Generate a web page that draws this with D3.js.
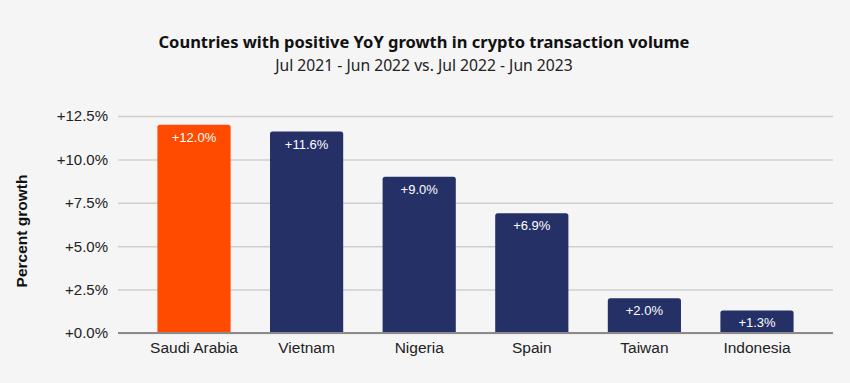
<!DOCTYPE html>
<html>
<head>
<meta charset="utf-8">
<script src="https://cdn.jsdelivr.net/npm/d3@7"></script>
<style>
  body { margin: 0; background: #f5f5f5; }
  svg { display: block; }
  .tick text { font-family: "Liberation Sans", Arial, sans-serif; fill: #222; }
</style>
</head>
<body>
<div id="chart"></div>
<script>
var countries = ["Saudi Arabia", "Vietnam", "Nigeria", "Spain", "Taiwan", "Indonesia"];
var growth = [12.0, 11.6, 9.0, 6.9, 2.0, 1.3];
var yTicks = [0, 2.5, 5, 7.5, 10, 12.5];
var barColors = ["#ff4b00", "#253066", "#253066", "#253066", "#253066", "#253066"];

var svgWidth = 850;
var svgHeight = 383;

var margin = { top: 116, right: 17, bottom: 50, left: 118 };
var width = svgWidth - margin.left - margin.right;
var height = svgHeight - margin.top - margin.bottom;

var data = countries.map(function(c, i) {
  return { country: c, value: growth[i], color: barColors[i] };
});

var svg = d3.select("#chart")
  .append("svg")
  .attr("width", svgWidth)
  .attr("height", svgHeight);

svg.append("rect")
  .attr("width", svgWidth)
  .attr("height", svgHeight)
  .attr("fill", "#f5f5f5");

// Titles
svg.append("text")
  .attr("x", 424)
  .attr("y", 48)
  .attr("text-anchor", "middle")
  .style("font-family", "'Noto Sans', Lato, sans-serif")
  .style("font-weight", "bold")
  .style("font-size", "16.5px")
  .attr("fill", "#111")
  .text("Countries with positive YoY growth in crypto transaction volume");

svg.append("text")
  .attr("x", 424)
  .attr("y", 71)
  .attr("text-anchor", "middle")
  .style("font-family", "'Noto Sans', Lato, sans-serif")
  .style("font-size", "15.7px")
  .attr("fill", "#222")
  .text("Jul 2021 - Jun 2022 vs. Jul 2022 - Jun 2023");

var chartGroup = svg.append("g")
  .attr("transform", `translate(${margin.left}, ${margin.top})`);

var xScale = d3.scaleBand()
  .domain(countries)
  .range([0, width])
  .paddingInner(0.35)
  .paddingOuter(0.35);

var yScale = d3.scaleLinear()
  .domain([0, 12.5])
  .range([height, 0]);

// gridlines
var leftAxis = d3.axisLeft(yScale)
  .tickValues(yTicks)
  .tickSize(-width)
  .tickPadding(10)
  .tickFormat(function(d) { return "+" + d3.format(".1f")(d) + "%"; });

var yAxis = chartGroup.append("g").call(leftAxis);
yAxis.select(".domain").remove();
yAxis.selectAll(".tick line")
  .attr("stroke", "#cfcfcf")
  .attr("stroke-width", 1.5);
yAxis.selectAll(".tick text")
  .style("font-size", "15px");

var bottomAxis = d3.axisBottom(xScale).tickSize(0).tickPadding(9);
var xAxis = chartGroup.append("g")
  .attr("transform", `translate(0, ${height})`)
  .call(bottomAxis);
xAxis.select(".domain").remove();
xAxis.selectAll(".tick text").style("font-size", "15.5px");

// bars with rounded top corners
function barPath(d) {
  var x0 = xScale(d.country), w = xScale.bandwidth();
  var y0 = yScale(d.value), y1 = yScale(0), r = 2.5;
  return `M${x0},${y1} L${x0},${y0 + r} Q${x0},${y0} ${x0 + r},${y0} ` +
    `L${x0 + w - r},${y0} Q${x0 + w},${y0} ${x0 + w},${y0 + r} L${x0 + w},${y1} Z`;
}

chartGroup.selectAll(".bar")
  .data(data)
  .enter()
  .append("path")
  .attr("class", "bar")
  .attr("d", barPath)
  .attr("fill", d => d.color);

// value labels
chartGroup.selectAll(".vlabel")
  .data(data)
  .enter()
  .append("text")
  .attr("class", "vlabel")
  .attr("x", d => xScale(d.country) + xScale.bandwidth() / 2)
  .attr("y", d => yScale(d.value) + 17)
  .attr("text-anchor", "middle")
  .style("font-family", "'Liberation Sans', Arial, sans-serif")
  .style("font-size", "13px")
  .attr("fill", "#fff")
  .text(d => "+" + d.value.toFixed(1) + "%");

// baseline
chartGroup.append("line")
  .attr("x1", 0)
  .attr("x2", width)
  .attr("y1", yScale(0))
  .attr("y2", yScale(0))
  .attr("stroke", "#8a8a8a")
  .attr("stroke-width", 2);

// y axis title
svg.append("text")
  .attr("transform", "translate(27, 231) rotate(-90)")
  .attr("text-anchor", "middle")
  .style("font-family", "'Liberation Sans', Arial, sans-serif")
  .style("font-weight", "bold")
  .style("font-size", "15.5px")
  .attr("fill", "#111")
  .text("Percent growth");
</script>
</body>
</html>
